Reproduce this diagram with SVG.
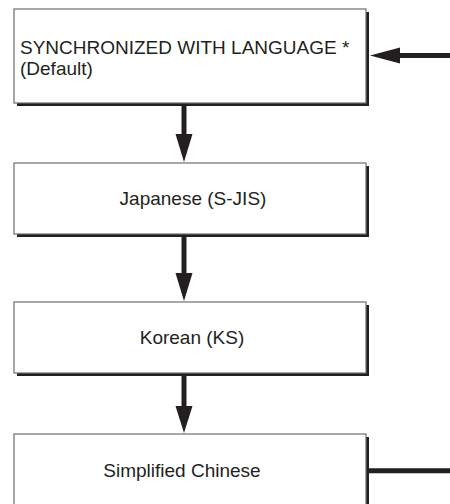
<svg xmlns="http://www.w3.org/2000/svg" width="450" height="504" viewBox="0 0 450 504">
<style>
.sh{fill:#231f20}
.bx{fill:#fff;stroke:#6d6e71;stroke-width:1.2}
.t{font-family:"Liberation Sans",Arial,sans-serif;font-size:19px;fill:#231f20}
.c{stroke:#231f20;stroke-width:5;fill:none}
.h{fill:#231f20}
</style>
<rect width="450" height="504" fill="#fff"/>
<g id="node-sync">
<rect class="sh" x="17" y="12" width="352" height="94"/>
<rect class="bx" x="14" y="9" width="352" height="94"/>
<text class="t" x="20" y="54">SYNCHRONIZED WITH LANGUAGE *</text>
<text class="t" x="20" y="75">(Default)</text>
</g>
<g id="node-japanese">
<rect class="sh" x="17" y="166" width="352" height="71"/>
<rect class="bx" x="14" y="163" width="352" height="71"/>
<text class="t" x="193" y="205" text-anchor="middle">Japanese (S-JIS)</text>
</g>
<g id="node-korean">
<rect class="sh" x="17" y="305" width="352" height="71"/>
<rect class="bx" x="14" y="302" width="352" height="71"/>
<text class="t" x="192" y="344" text-anchor="middle">Korean (KS)</text>
</g>
<g id="node-chinese">
<rect class="sh" x="17" y="437" width="352" height="80"/>
<rect class="bx" x="14" y="434" width="352" height="80"/>
<text class="t" x="182" y="477" text-anchor="middle">Simplified Chinese</text>
</g>
<g id="connectors">
<line class="c" x1="450" y1="55.5" x2="398" y2="55.5"/>
<polygon class="h" points="370,55.5 400,47.5 400,63.5"/>
<line class="c" x1="184" y1="106" x2="184" y2="136"/>
<polygon class="h" points="175.5,134 192.5,134 184,162"/>
<line class="c" x1="184" y1="237" x2="184" y2="275"/>
<polygon class="h" points="175.5,273 192.5,273 184,301"/>
<line class="c" x1="184" y1="376" x2="184" y2="408"/>
<polygon class="h" points="175.5,406 192.5,406 184,433"/>
<line class="c" x1="369" y1="470.8" x2="450" y2="470.8"/>
</g>
</svg>
